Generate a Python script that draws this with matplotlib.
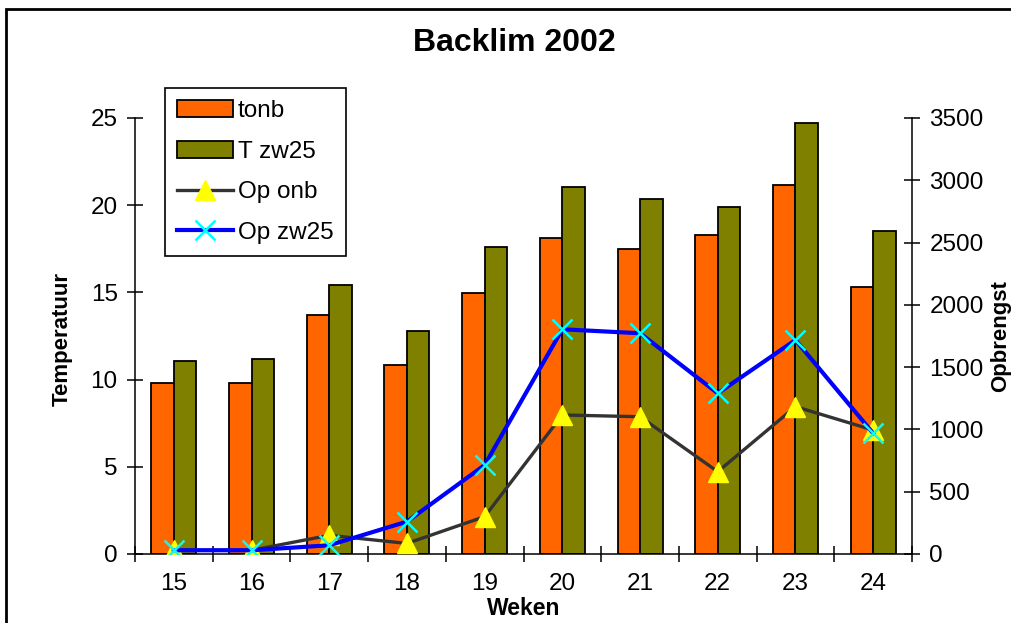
import numpy as np
import matplotlib
matplotlib.use("Agg")
import matplotlib.pyplot as plt
from matplotlib.patches import Rectangle
from matplotlib.ticker import FixedLocator

plt.rcParams['font.family'] = ['Liberation Sans', 'DejaVu Sans']

weeks = [15, 16, 17, 18, 19, 20, 21, 22, 23, 24]
tonb = [9.82, 9.82, 13.7, 10.84, 14.98, 18.1, 17.5, 18.31, 21.17, 15.33]
t_zw25 = [11.08, 11.2, 15.42, 12.8, 17.62, 21.06, 20.37, 19.91, 24.73, 18.54]
op_onb = [30, 30, 150, 85, 300, 1116, 1102, 661, 1183, 995]
op_zw25 = [30, 30, 70, 260, 714, 1804, 1772, 1290, 1718, 969]

W, H = 1012, 623
fig = plt.figure(figsize=(W / 100, H / 100), dpi=100)
ax = fig.add_axes([135 / W, 1 - 554 / H, (912 - 135) / W, (554 - 118) / H])
ax2 = ax.twinx()

x = np.arange(len(weeks))
bw = 0.29
b1 = ax.bar(x - bw / 2, tonb, bw, color='#FF6600', edgecolor='black', linewidth=1.3, label='tonb')
b2 = ax.bar(x + bw / 2, t_zw25, bw, color='#808000', edgecolor='black', linewidth=1.3, label='T zw25')

l1, = ax2.plot(x, op_onb, color='#333333', lw=2.4, marker='^', ms=15,
               mfc='#FFFF00', mec='#FFFF00', label='Op onb')
l2, = ax2.plot(x, op_zw25, color='#0000FF', lw=3, marker='x', ms=15,
               mec='#00FFFF', mew=1.8, label='Op zw25')

ax.set_xlim(-0.5, len(weeks) - 0.5)
ax.set_ylim(0, 25)
ax2.set_ylim(0, 3500)
ax.set_yticks(np.arange(0, 26, 5))
ax2.set_yticks(np.arange(0, 3501, 500))

ax.set_xticks(x)
ax.set_xticklabels([str(w) for w in weeks])
ax.xaxis.set_minor_locator(FixedLocator(np.arange(-0.5, len(weeks), 1)))
ax.tick_params(axis='x', which='major', length=0, pad=14, labelsize=17.5)
ax.tick_params(axis='x', which='minor', direction='inout', length=11, width=1.1)
ax.tick_params(axis='y', direction='inout', length=11, width=1.1, pad=7, labelsize=17.5)
ax2.tick_params(axis='y', direction='inout', length=11, width=1.1, pad=7, labelsize=17.5)

for a in (ax, ax2):
    a.spines['top'].set_visible(False)
    for s in ('left', 'right', 'bottom'):
        a.spines[s].set_linewidth(1.1)
ax.spines['right'].set_visible(False)
ax2.spines['left'].set_visible(False)
ax2.spines['bottom'].set_visible(False)

ax.set_xlabel('Weken', fontsize=16.5, fontweight='bold')
ax.xaxis.set_label_coords(0.5, (554 - 597) / 436)
ax.set_ylabel('Temperatuur', fontsize=16, fontweight='bold', ha='center', va='center')
ax.yaxis.set_label_coords((62 - 135) / 777, (554 - 339) / 436)
ax2.set_ylabel('Opbrengst', fontsize=16, fontweight='bold', rotation=90, ha='center', va='center')
ax2.yaxis.set_label_coords((1001 - 135) / 777, (554 - 336) / 436)

ax.set_title('Backlim 2002', fontsize=23, fontweight='bold',
             x=(514 - 135) / 777, y=(554 - 59) / 436)
ax.title.set_verticalalignment('baseline')

leg = ax2.legend(handles=[b1, b2, l1, l2], loc='upper left',
                 bbox_to_anchor=(165 / W, 1 - 88 / H), bbox_transform=fig.transFigure,
                 borderaxespad=0, fontsize=17.5, frameon=True, fancybox=False,
                 edgecolor='black', framealpha=1, labelspacing=0.76,
                 handlelength=2.3, handletextpad=0.2, borderpad=0.5)
leg.get_frame().set_linewidth(1.2)

fig.add_artist(Rectangle((6 / W, -0.2), 1.2, 1.2 - 8.5 / H, transform=fig.transFigure,
                         fill=False, edgecolor='black', linewidth=2))

fig.savefig('out.png', dpi=100)
